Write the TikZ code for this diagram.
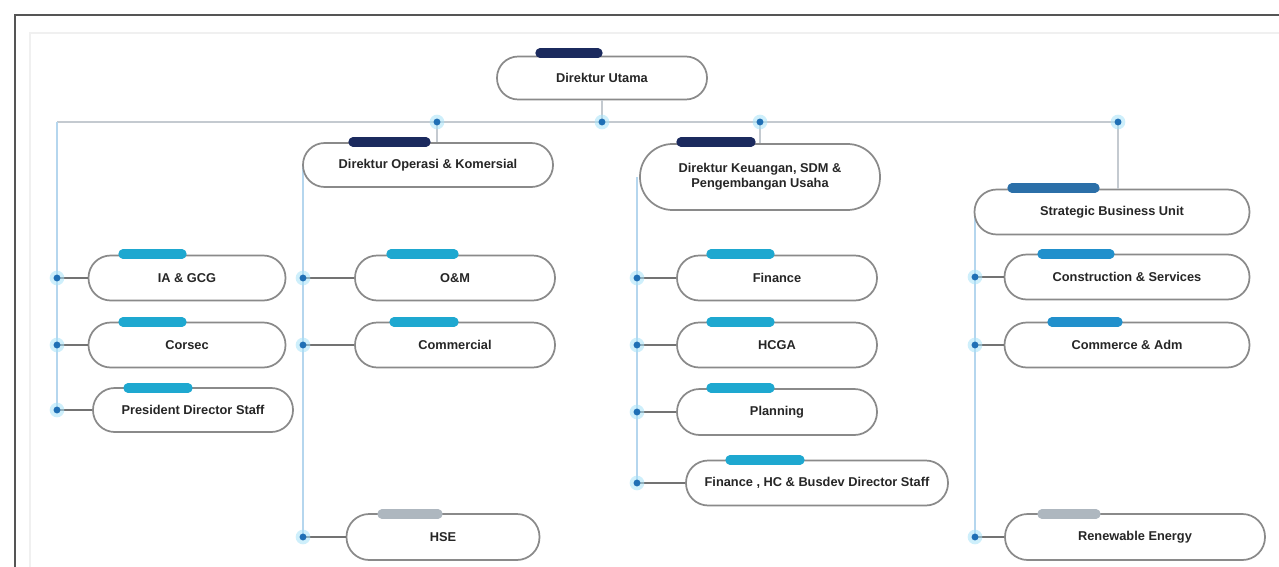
\documentclass[tikz,border=0pt]{standalone}
\usepackage{fontspec}
\setmainfont{Liberation Sans}
\definecolor{navyT}{HTML}{1B2A5E}
\definecolor{cyanT}{HTML}{1EA8D0}
\definecolor{sbuT}{HTML}{2B6FA8}
\definecolor{sbuL}{HTML}{2190CC}
\definecolor{grayT}{HTML}{AEB7BF}
\definecolor{pillB}{HTML}{8A8A8A}
\definecolor{busL}{HTML}{C4CAD0}
\definecolor{spineL}{HTML}{B5D6EE}
\definecolor{dotC}{HTML}{1F6FB5}
\definecolor{frameC}{HTML}{555555}
\tikzset{
  pill/.style 2 args={draw=pillB, line width=1.3pt, fill=white, rounded corners=#2*0.37pt,
    minimum width=#1*0.75pt, minimum height=#2*0.75pt, inner sep=1pt,
    font=\fontsize{9.6}{11}\selectfont\bfseries, text=black!85, align=center},
  tabbar/.style={line width=7pt, line cap=round},
  busline/.style={draw=busL, line width=1.4pt},
  spine/.style={draw=spineL, line width=1.6pt},
  link/.style={draw=black!55, line width=0.8pt},
  glow/.style={fill=cyan!35, opacity=0.55},
  dotm/.style={fill=dotC}
}
\newcommand\marker[1]{\fill[glow] (#1) circle (5.5pt); \fill[dotm] (#1) circle (2.6pt);}
\newcommand\tabat[4]{\draw[tabbar,#4] (#1,#3) -- (#2,#3);}
\begin{document}
\begin{tikzpicture}[x=0.75pt,y=-0.75pt]
\useasboundingbox (0,0) rectangle (1279,567);
\fill[white] (0,0) rectangle (1279,567);
% frame
\draw[black!6, line width=1pt] (30,567) -- (30,33) -- (1279,33);
\draw[frameC, line width=2pt] (15,567) -- (15,15) -- (1279,15);

% coordinates for bus and spines
\coordinate (b0) at (57,122);
\coordinate (b1) at (437,122);
\coordinate (b2) at (602,122);
\coordinate (b3) at (760,122);
\coordinate (b4) at (1118,122);

\coordinate (l1) at (57,278);
\coordinate (l2) at (57,345);
\coordinate (l3) at (57,410);
\coordinate (o0) at (303,165);
\coordinate (o1) at (303,278);
\coordinate (o2) at (303,345);
\coordinate (o3) at (303,537);
\coordinate (f0) at (637,177);
\coordinate (f1) at (637,278);
\coordinate (f2) at (637,345);
\coordinate (f3) at (637,412);
\coordinate (f4) at (637,483);
\coordinate (s0) at (975,212);
\coordinate (s1) at (975,277);
\coordinate (s2) at (975,345);
\coordinate (s3) at (975,537);

% bus and spines
\draw[busline] (b0) -- (b4);
\draw[spine] (b0) -- (l3);
\draw[spine] (o0) -- (o3);
\draw[spine] (f0) -- (f4);
\draw[spine] (s0) -- (s3);

% nodes
\node[pill={210}{43}] (du) at (602,78) {Direktur Utama};
\node[pill={250}{44}] (dok) at (428,165) {Direktur Operasi \& Komersial};
\node[pill={240}{66}] (dk) at (760,177) {Direktur Keuangan, SDM \&\\Pengembangan Usaha};
\node[pill={275}{45}] (sbu) at (1112,212) {Strategic Business Unit};

\node[pill={197}{45}] (ia) at (187,278) {IA \& GCG};
\node[pill={197}{45}] (cs) at (187,345) {Corsec};
\node[pill={200}{44}] (pds) at (193,410) {President Director Staff};

\node[pill={200}{45}] (om) at (455,278) {O\&M};
\node[pill={200}{45}] (com) at (455,345) {Commercial};
\node[pill={193}{46}] (hse) at (443,537) {HSE};

\node[pill={200}{45}] (fin) at (777,278) {Finance};
\node[pill={200}{45}] (hcga) at (777,345) {HCGA};
\node[pill={200}{46}] (pln) at (777,412) {Planning};
\node[pill={262}{45}] (fds) at (817,483) {Finance , HC \& Busdev Director Staff};

\node[pill={245}{45}] (cns) at (1127,277) {Construction \& Services};
\node[pill={245}{45}] (cad) at (1127,345) {Commerce \& Adm};
\node[pill={260}{46}] (ren) at (1135,537) {Renewable Energy};

% tabs
\tabat{540}{598}{53}{navyT}
\tabat{353}{426}{142}{navyT}
\tabat{681}{751}{142}{navyT}
\tabat{1012}{1095}{188}{sbuT}
\tabat{123}{182}{254}{cyanT}
\tabat{123}{182}{322}{cyanT}
\tabat{128}{188}{388}{cyanT}
\tabat{391}{454}{254}{cyanT}
\tabat{394}{454}{322}{cyanT}
\tabat{382}{438}{514}{grayT}
\tabat{711}{770}{254}{cyanT}
\tabat{711}{770}{322}{cyanT}
\tabat{711}{770}{388}{cyanT}
\tabat{730}{800}{460}{cyanT}
\tabat{1042}{1110}{254}{sbuL}
\tabat{1052}{1118}{322}{sbuL}
\tabat{1042}{1096}{514}{grayT}

% connectors
\draw[busline] (du) -- (b2);
\draw[busline] (b1) -- (b1 |- dok.north);
\draw[busline] (b3) -- (b3 |- dk.north);
\draw[busline] (b4) -- (b4 |- sbu.north);
\draw[link] (l1) -- (l1 -| ia.west);
\draw[link] (l2) -- (l2 -| cs.west);
\draw[link] (l3) -- (l3 -| pds.west);
\draw[link] (o1) -- (o1 -| om.west);
\draw[link] (o2) -- (o2 -| com.west);
\draw[link] (o3) -- (o3 -| hse.west);
\draw[link] (f1) -- (f1 -| fin.west);
\draw[link] (f2) -- (f2 -| hcga.west);
\draw[link] (f3) -- (f3 -| pln.west);
\draw[link] (f4) -- (f4 -| fds.west);
\draw[link] (s1) -- (s1 -| cns.west);
\draw[link] (s2) -- (s2 -| cad.west);
\draw[link] (s3) -- (s3 -| ren.west);

% markers
\marker{b1}\marker{b2}\marker{b3}\marker{b4}
\marker{l1}\marker{l2}\marker{l3}
\marker{o1}\marker{o2}\marker{o3}
\marker{f1}\marker{f2}\marker{f3}\marker{f4}
\marker{s1}\marker{s2}\marker{s3}
\end{tikzpicture}
\end{document}
